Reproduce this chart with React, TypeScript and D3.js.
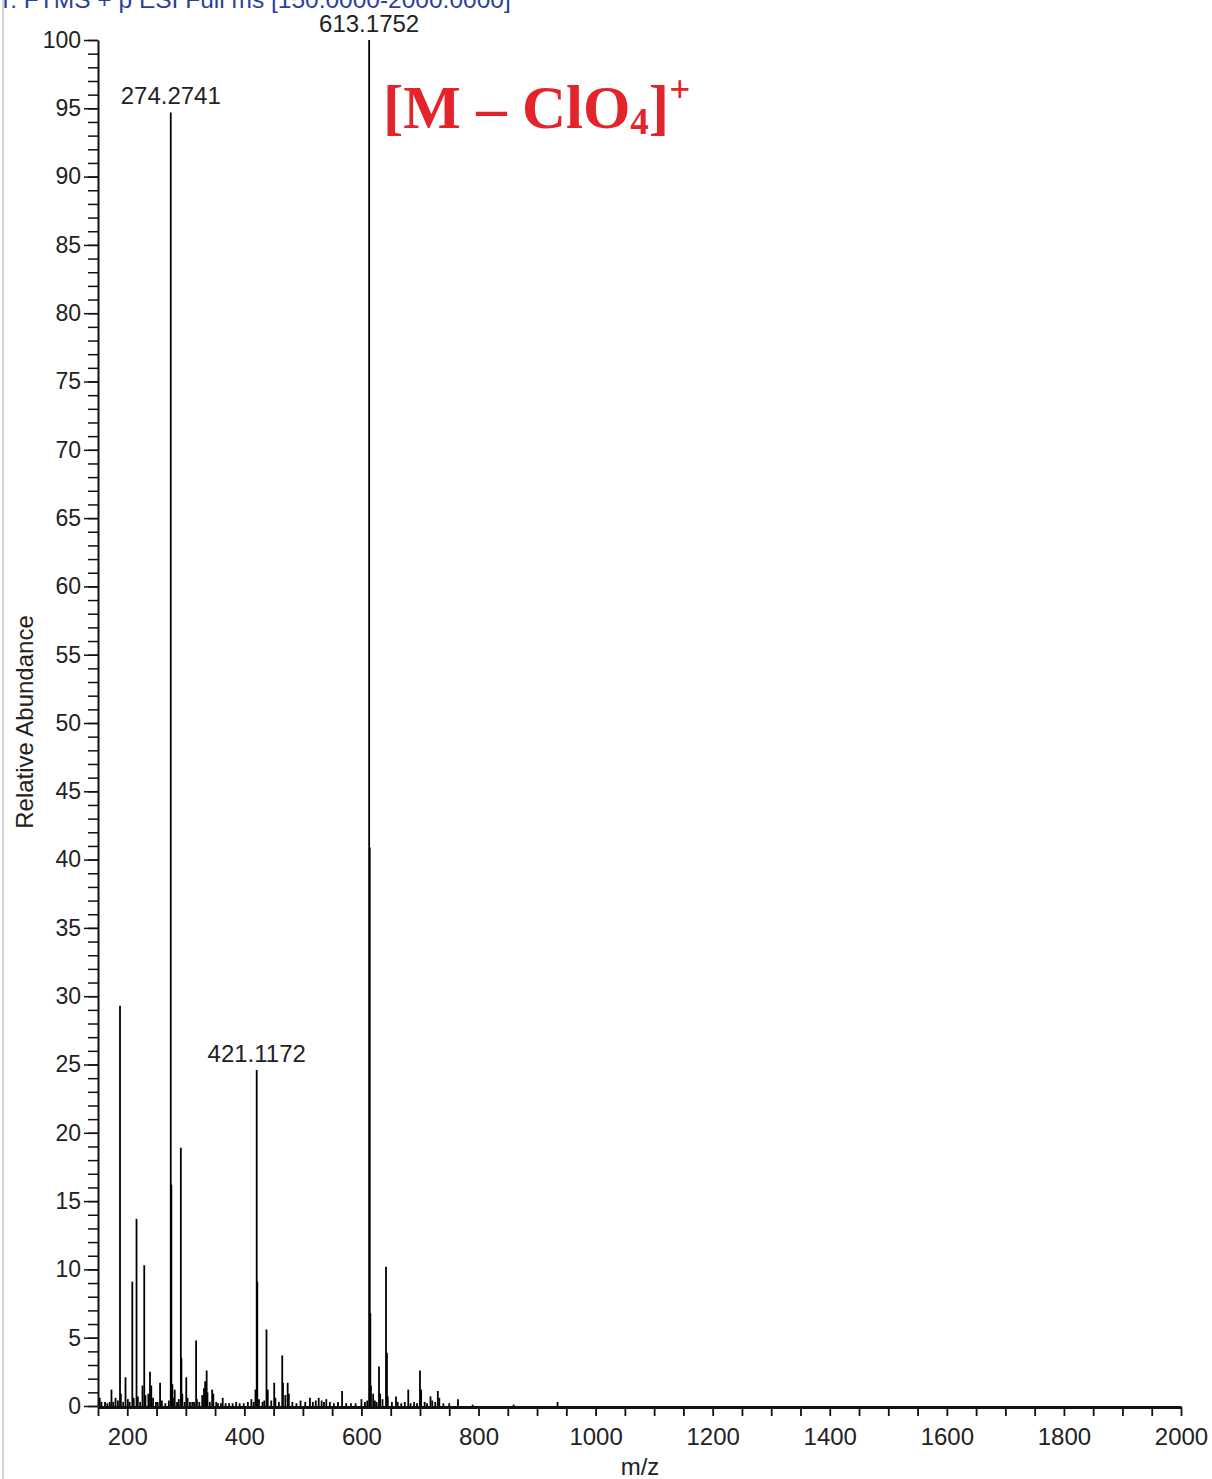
import React, { useEffect, useRef } from 'react';
import * as d3 from 'd3';

// peak list (m/z, relative abundance %)
const peakMz = [
  152, 153, 156, 162, 166, 170, 173, 176, 180, 184, 187.6, 189, 193, 197, 201, 204, 208.6, 211, 215.8, 218,
  222, 226, 229, 231, 236, 238.8, 241, 244, 249, 252, 256, 259, 265, 271, 274.27, 275.3, 277, 280, 281, 285,
  288, 291.5, 292.5, 294, 298, 300.8, 303, 307, 311, 314, 317.6, 319, 323, 328, 331, 333, 335.6, 337, 341, 345,
  347, 352, 355, 360, 363, 368, 374, 380, 386, 392, 399, 406, 412, 416, 419, 421.12, 422.1, 425, 431, 434,
  437.8, 440, 446, 451, 453, 459, 464.7, 466, 470, 474, 476, 482, 489, 496, 504, 512, 517, 522, 527, 532,
  536, 540, 546, 553, 560, 567, 574, 582, 590, 600, 606, 610, 613.18, 614.18, 615.2, 616.2, 620, 623, 626,
  630, 632, 636, 642, 643.6, 645, 652, 659, 662, 668, 674, 680, 684, 690, 695, 700, 702, 708, 712, 718,
  721, 726, 730.5, 733, 740, 750, 765, 790, 860, 935
];
const peakAbundance = [
  0.3, 0.6, 0.3, 0.3, 0.2, 0.3, 1.2, 0.3, 0.6, 0.4, 29.3, 0.9, 0.3, 2.1, 0.5, 0.3, 9.1, 0.6, 13.7, 0.7,
  0.3, 1.5, 10.3, 0.8, 0.9, 2.5, 1.5, 0.6, 0.3, 0.3, 1.7, 0.4, 0.2, 0.4, 94.7, 16.2, 1.6, 0.6, 1.2, 0.3,
  0.5, 18.9, 3.5, 0.9, 0.3, 2.1, 0.6, 0.3, 0.3, 0.3, 4.8, 0.5, 0.3, 0.8, 1.3, 1.8, 2.6, 1.0, 0.3, 1.2,
  0.9, 0.3, 0.2, 0.2, 0.6, 0.2, 0.2, 0.2, 0.3, 0.2, 0.2, 0.3, 0.5, 0.3, 1.2, 24.6, 9.1, 0.5, 0.3, 0.4,
  5.6, 1.2, 0.4, 1.7, 0.6, 0.3, 3.7, 1.7, 0.8, 1.7, 0.9, 0.3, 0.2, 0.4, 0.3, 0.6, 0.3, 0.4, 0.6, 0.4,
  0.3, 0.5, 0.3, 0.2, 0.3, 1.1, 0.2, 0.2, 0.2, 0.5, 0.3, 0.4, 100, 40.9, 6.8, 1.5, 0.9, 0.4, 0.3,
  2.9, 0.9, 0.5, 10.2, 3.9, 0.7, 0.3, 0.7, 0.3, 0.2, 0.3, 1.2, 0.2, 0.3, 0.2, 2.6, 1.2, 0.3, 0.2, 0.7,
  0.4, 0.3, 1.1, 0.6, 0.2, 0.2, 0.5, 0.1, 0.1, 0.3
];

// annotated peaks
const labelMz = [274.2741, 613.1752, 421.1172];
const labelAbundance = [94.7, 100, 24.6];
const labelText = ['274.2741', '613.1752', '421.1172'];

const xLabelTicks = [200, 400, 600, 800, 1000, 1200, 1400, 1600, 1800, 2000];
const yLabelTicks = [0, 5, 10, 15, 20, 25, 30, 35, 40, 45, 50, 55, 60, 65, 70, 75, 80, 85, 90, 95, 100];

const W = 1212;
const H = 1479;
const FONT = "'Liberation Sans', Arial, Helvetica, sans-serif";

const App = () => {
  const ref = useRef(null);

  useEffect(() => {
    const svg = d3.select(ref.current);
    svg.selectAll('*').remove();

    const left = 98, right = 1181, top = 40, bottom = 1406;

    const x = d3.scaleLinear().domain([150, 2000]).range([left, right]);
    const y = d3.scaleLinear().domain([0, 100]).range([bottom, top]);

    svg.append('rect').attr('width', W).attr('height', H).attr('fill', '#fff');
    // frame edge on the left
    svg.append('line').attr('x1', 3).attr('x2', 3).attr('y1', 0).attr('y2', H)
      .attr('stroke', '#c8c8c8').attr('stroke-width', 1.5);

    // header (cut at the top, as in the source screenshot)
    svg.append('text')
      .attr('x', -2).attr('y', 8)
      .attr('font-family', FONT).attr('font-size', 24.5)
      .attr('fill', '#2b3f9e')
      .text('T: FTMS + p ESI Full ms [150.0000-2000.0000]');

    // y axis: minor ticks every 1 %, labelled every 5 %
    const yMinor = svg.append('g').attr('transform', `translate(${left},0)`)
      .call(d3.axisLeft(y).tickValues(d3.range(0, 101, 1)).tickSize(10).tickFormat(() => ''));
    yMinor.select('.domain').remove();
    yMinor.selectAll('line').attr('stroke', '#111').attr('stroke-width', 1.5);

    const yMajor = svg.append('g').attr('transform', `translate(${left},0)`)
      .call(d3.axisLeft(y).tickValues(yLabelTicks).tickSize(14).tickSizeOuter(0).tickPadding(3));
    yMajor.select('.domain').attr('stroke', '#111').attr('stroke-width', 2);
    yMajor.selectAll('line').attr('stroke', '#111').attr('stroke-width', 1.5);
    yMajor.selectAll('text').attr('font-family', FONT).attr('font-size', 23).attr('fill', '#222');

    // x axis: ticks every 50, labels every 200
    const xAxis = svg.append('g').attr('transform', `translate(0,${bottom + 1})`)
      .call(d3.axisBottom(x).tickValues(d3.range(150, 2001, 50)).tickSize(9).tickSizeOuter(0)
        .tickPadding(12).tickFormat((d) => (xLabelTicks.includes(+d) ? String(d) : '')));
    xAxis.select('.domain').attr('stroke', '#111').attr('stroke-width', 3);
    xAxis.selectAll('line').attr('stroke', '#111').attr('stroke-width', 1.8);
    xAxis.selectAll('text').attr('font-family', FONT).attr('font-size', 24).attr('fill', '#222');

    // stick spectrum
    svg.append('g').selectAll('line')
      .data(peakMz.map((m, i) => ({ m, a: peakAbundance[i] })))
      .enter().append('line')
      .attr('x1', (d) => x(d.m)).attr('x2', (d) => x(d.m))
      .attr('y1', y(0)).attr('y2', (d) => y(d.a))
      .attr('stroke', '#000').attr('stroke-width', 1.8);

    // peak labels
    svg.append('g').selectAll('text')
      .data(labelMz.map((m, i) => ({ m, a: labelAbundance[i], t: labelText[i] })))
      .enter().append('text')
      .attr('x', (d) => x(d.m)).attr('y', (d) => y(d.a) - 8)
      .attr('text-anchor', 'middle')
      .attr('font-family', FONT).attr('font-size', 24).attr('fill', '#222')
      .text((d) => d.t);

    // axis titles
    svg.append('text')
      .attr('transform', 'translate(33,722) rotate(-90)')
      .attr('text-anchor', 'middle')
      .attr('font-family', FONT).attr('font-size', 24).attr('fill', '#222')
      .text('Relative Abundance');
    svg.append('text')
      .attr('x', 640).attr('y', 1475)
      .attr('text-anchor', 'middle')
      .attr('font-family', FONT).attr('font-size', 24).attr('fill', '#222')
      .text('m/z');

    // ion annotation
    const ann = svg.append('text')
      .attr('x', 383).attr('y', 128)
      .attr('font-family', "'Liberation Serif', 'Times New Roman', serif")
      .attr('font-weight', 'bold').attr('font-size', 61).attr('fill', '#e3242b');
    ann.append('tspan').text('[M \u2013 ClO');
    ann.append('tspan').attr('font-size', 37).attr('dy', 6).text('4');
    ann.append('tspan').attr('dy', -6).text(']');
    ann.append('tspan').attr('font-size', 37).attr('dy', -26).text('+');
  }, []);

  return (
    <svg
      ref={ref}
      width={W}
      height={H}
      style={{ position: 'absolute', left: 0, top: 0, display: 'block' }}
    />
  );
};

export default App;
